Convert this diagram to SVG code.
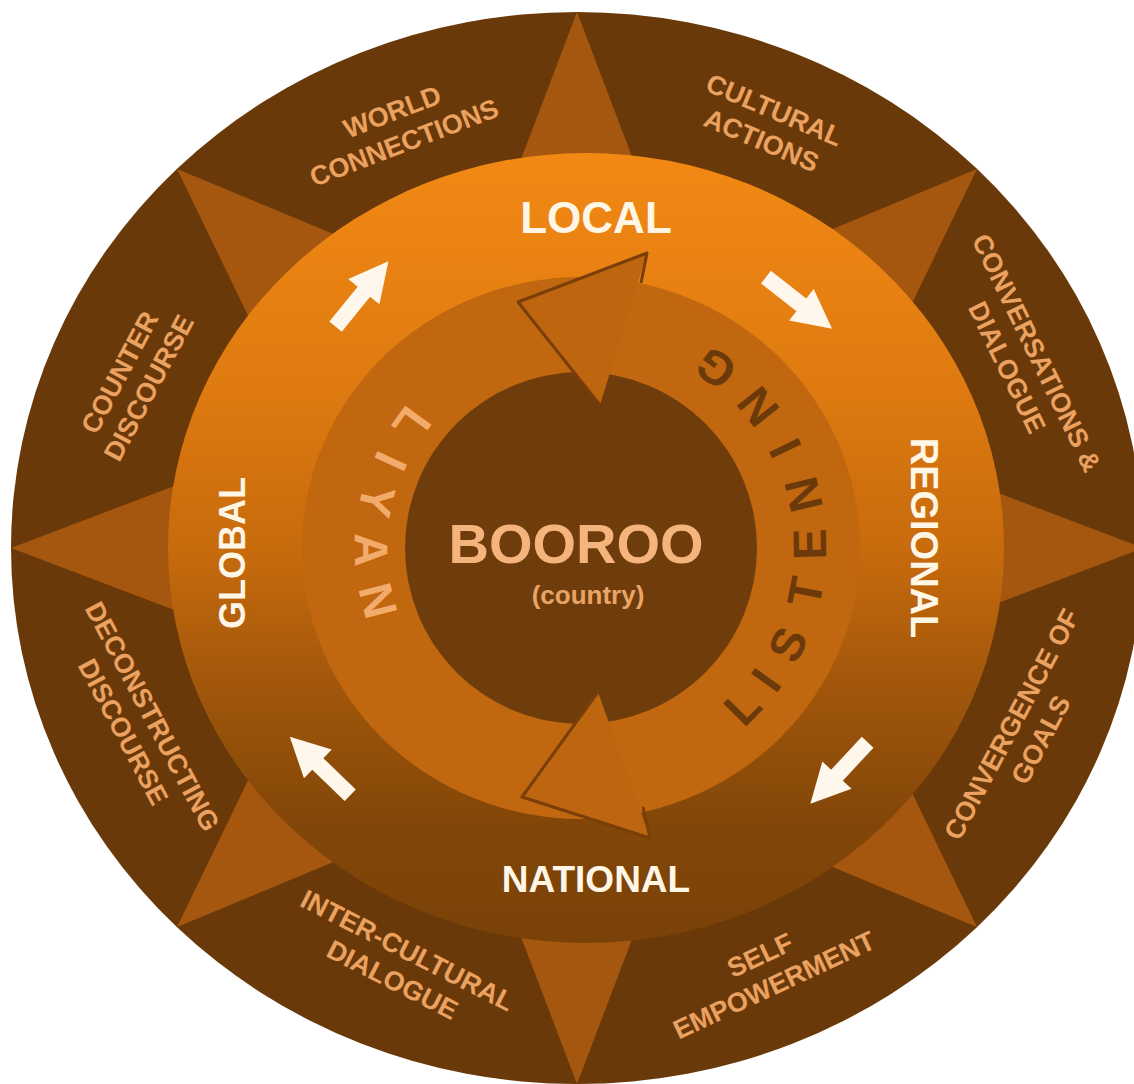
<svg xmlns="http://www.w3.org/2000/svg" width="1134" height="1084" viewBox="0 0 1134 1084">
  <defs>
    <linearGradient id="ringGrad" x1="0" y1="0" x2="0" y2="1">
      <stop offset="0" stop-color="#F28914"/>
      <stop offset="0.3" stop-color="#DE7A10"/>
      <stop offset="0.5" stop-color="#C86B0D"/>
      <stop offset="0.68" stop-color="#A0560B"/>
      <stop offset="0.85" stop-color="#824608"/>
      <stop offset="1" stop-color="#7A4208"/>
    </linearGradient>
    <polygon id="wArrow" points="-42,-8 3,-8 3,-20 42,0 3,20 3,8 -42,8"/>
  </defs>
  <style>
    .lbl { font-family: "Liberation Sans", Arial, Helvetica, sans-serif; font-weight: bold; }
    .outer { fill: #EBA15F; font-size: 27px; text-anchor: middle; }
    .level { fill: #FFF6E6; text-anchor: middle; }
    .liyan { fill: #F3AB6C; font-size: 47px; text-anchor: middle; }
    .listen { fill: #6C3A0A; font-size: 47px; text-anchor: middle; }
    .spike { fill: #A5570F; }
    .head { fill: #BE6510; }
    .headLine { fill: none; stroke: #7A3E08; stroke-width: 3; stroke-linejoin: round; }
    .wArrow { fill: #FFF7EC; }
  </style>

  <rect width="1134" height="1084" fill="#FFFFFF"/>

  <!-- outer band with the eight-pointed star -->
  <g id="outer-band">
    <ellipse cx="577" cy="548" rx="566" ry="536" fill="#6A3909"/>
    <polygon class="spike" points="577,12 463,312 691,312"/>
    <polygon class="spike" points="977,169 837,458 681,292"/>
    <polygon class="spike" points="1143,548 843,434 843,662"/>
    <polygon class="spike" points="977,927 681,804 837,638"/>
    <polygon class="spike" points="577,1084 463,784 691,784"/>
    <polygon class="spike" points="177,927 473,804 317,638"/>
    <polygon class="spike" points="11,548 311,434 311,662"/>
    <polygon class="spike" points="177,169 317,458 473,292"/>
  </g>

  <!-- level ring: local / regional / national / global -->
  <g id="level-ring">
    <ellipse cx="586" cy="548" rx="418" ry="395" fill="url(#ringGrad)"/>
  </g>

  <!-- liyan / listening ring -->
  <g id="cycle-ring">
    <ellipse cx="581" cy="548" rx="279" ry="271" fill="#C1670F"/>
  </g>

  <!-- centre: booroo -->
  <g id="booroo">
    <circle cx="581" cy="548" r="176" fill="#6F3C0B"/>
  </g>

  <g id="connectors">
    <!-- cycle arrowheads -->
    <polygon class="head" points="647,253 518,302 600,405"/>
    <polyline class="headLine" points="641,283 647,253 518,302 600,405"/>
    <polygon class="head" points="598,692 522,797 650,838"/>
    <polyline class="headLine" points="643,807 650,838 522,797 598,692"/>
    <!-- white direction arrows -->
    <use href="#wArrow" class="wArrow" transform="translate(362,294) rotate(-51)"/>
    <use href="#wArrow" class="wArrow" transform="translate(799,303) rotate(38)"/>
    <use href="#wArrow" class="wArrow" transform="translate(839,773) rotate(133)"/>
    <use href="#wArrow" class="wArrow" transform="translate(320,766) rotate(-136)"/>
  </g>

  <!-- centre labels -->
  <g id="booroo-label" class="lbl">
    <text x="576" y="563" font-size="56" fill="#F4B47C" text-anchor="middle">BOOROO</text>
    <text x="588" y="604" font-size="26" fill="#E9A466" text-anchor="middle">(country)</text>
  </g>

  <!-- ring lettering, read anticlockwise with letter tops toward the centre -->
  <g id="liyan" class="lbl liyan">
    <text transform="translate(412.3,424.9) rotate(126)" y="17">L</text>
    <text transform="translate(391.5,461.5) rotate(114.5)" y="17">I</text>
    <text transform="translate(377.3,501.2) rotate(103)" y="17">Y</text>
    <text transform="translate(372.0,549.8) rotate(89.5)" y="17">A</text>
    <text transform="translate(378.6,600.5) rotate(75.5)" y="17">N</text>
  </g>
  <g id="listening" class="lbl listen">
    <text transform="translate(742.0,706.3) rotate(-45.5)" y="17">L</text>
    <text transform="translate(765.5,679.5) rotate(-54.5)" y="17">I</text>
    <text transform="translate(787.1,644.2) rotate(-65)" y="17">S</text>
    <text transform="translate(804.9,591.6) rotate(-79)" y="17">T</text>
    <text transform="translate(809.0,544.1) rotate(-91)" y="17">E</text>
    <text transform="translate(802.8,494.8) rotate(-103.5)" y="17">N</text>
    <text transform="translate(784.4,448.7) rotate(-116)" y="17">I</text>
    <text transform="translate(757.5,407.1) rotate(-128.5)" y="17">N</text>
    <text transform="translate(715.2,368.9) rotate(-143)" y="17">G</text>
  </g>

  <!-- level labels -->
  <g id="local" class="lbl level"><text x="596" y="233" font-size="44">LOCAL</text></g>
  <g id="regional" class="lbl level"><text transform="translate(924,538) rotate(90)" y="13.5" font-size="38">REGIONAL</text></g>
  <g id="national" class="lbl level"><text x="596" y="892" font-size="37">NATIONAL</text></g>
  <g id="global" class="lbl level"><text transform="translate(232,553) rotate(-90)" y="13" font-size="36">GLOBAL</text></g>

  <!-- outer band labels -->
  <g id="world-connections" class="lbl outer" transform="translate(398,127) rotate(-21)">
    <text y="-7">WORLD</text><text y="26">CONNECTIONS</text>
  </g>
  <g id="cultural-actions" class="lbl outer" transform="translate(768,125) rotate(23)">
    <text y="-7">CULTURAL</text><text y="26">ACTIONS</text>
  </g>
  <g id="conversations-dialogue" class="lbl outer" transform="translate(1022,360) rotate(64)">
    <text y="-7">CONVERSATIONS &amp;</text><text y="26">DIALOGUE</text>
  </g>
  <g id="convergence-goals" class="lbl outer" transform="translate(1026,732) rotate(-62)">
    <text y="-7">CONVERGENCE OF</text><text y="26">GOALS</text>
  </g>
  <g id="self-empowerment" class="lbl outer" transform="translate(767,970) rotate(-25)">
    <text y="-7">SELF</text><text y="26">EMPOWERMENT</text>
  </g>
  <g id="inter-cultural-dialogue" class="lbl outer" transform="translate(400,965) rotate(27)">
    <text y="-7">INTER-CULTURAL</text><text y="26">DIALOGUE</text>
  </g>
  <g id="deconstructing-discourse" class="lbl outer" transform="translate(138,724) rotate(62)">
    <text y="-7">DECONSTRUCTING</text><text y="26">DISCOURSE</text>
  </g>
  <g id="counter-discourse" class="lbl outer" transform="translate(134,380) rotate(-62)">
    <text y="-7">COUNTER</text><text y="26">DISCOURSE</text>
  </g>
</svg>
